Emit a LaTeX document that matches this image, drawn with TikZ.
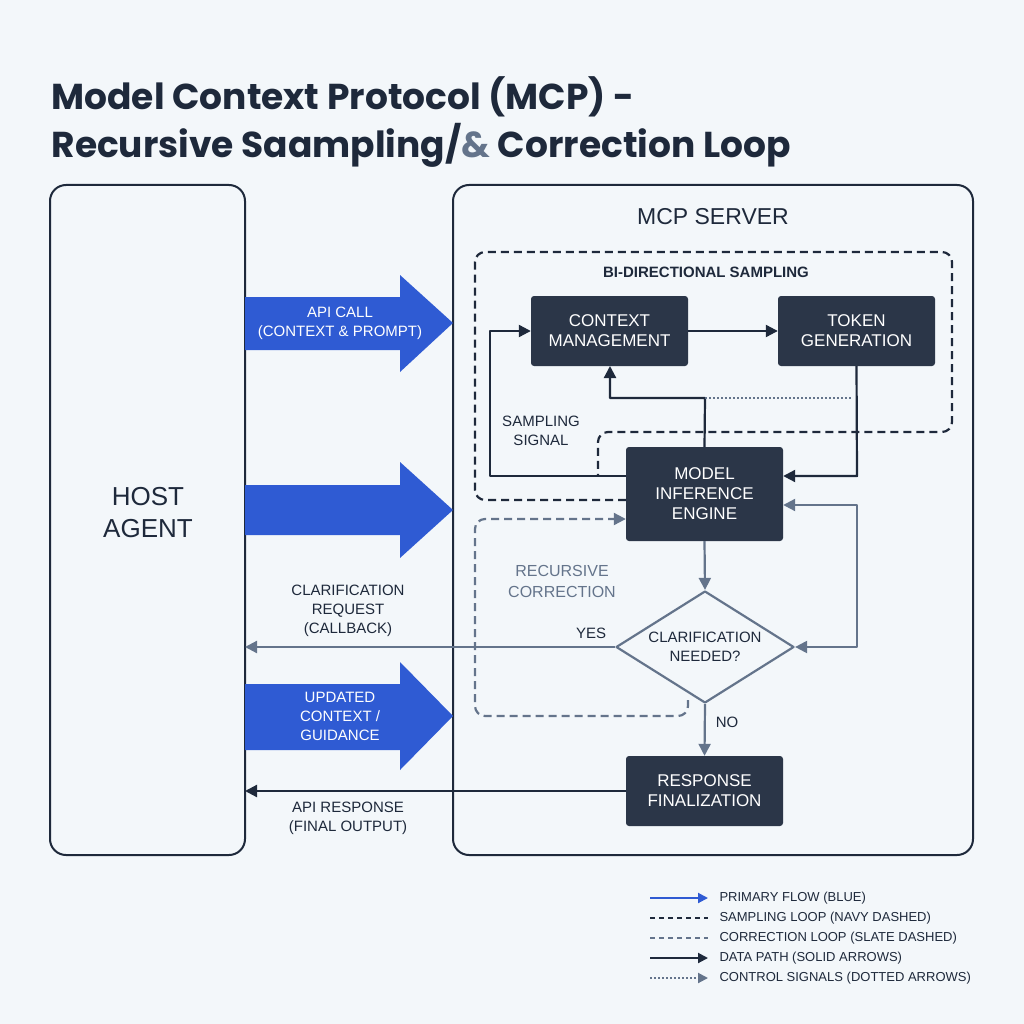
\documentclass[tikz,border=0pt]{standalone}
\usepackage{fontspec}
\setmainfont{Liberation Sans}
\newfontfamily\titlefont{Poppins}
\usetikzlibrary{arrows.meta,shapes.geometric}
\definecolor{navy}{HTML}{1E293B}
\definecolor{slate}{HTML}{64748B}
\definecolor{mcpblue}{HTML}{2F5BD3}
\definecolor{boxfill}{HTML}{2B3648}
\definecolor{bgcol}{HTML}{F3F7FA}
\tikzset{
  block/.style={draw=none,fill=boxfill,rounded corners=3pt,text=white,align=center,font=\fontsize{17}{20}\selectfont},
  datapath/.style={navy,line width=2.2pt,-{Triangle[length=12pt,width=12pt]}},
  ctrlpath/.style={slate,line width=2.2pt,-{Triangle[length=12pt,width=12pt]}},
  lbl/.style={align=center,font=\fontsize{15}{19}\selectfont,text=navy},
  bigarrow/.style={fill=mcpblue,draw=none},
  leg primary/.style={mcpblue,-{Triangle[length=10pt,width=10pt]}},
  leg sampling/.style={navy,dash pattern=on 5pt off 4pt},
  leg correction/.style={slate,dash pattern=on 5pt off 4pt},
  leg data/.style={navy,-{Triangle[length=10pt,width=10pt]}},
  leg control/.style={slate,dotted,-{Triangle[length=10pt,width=10pt]}},
}
\begin{document}
\begin{tikzpicture}[x=1pt,y=-1pt,line join=round]
%%
\fill[bgcol] (0,0) rectangle (1024,1024);
\useasboundingbox (0,0) rectangle (1024,1024);
\node (title) at (48,122) [anchor=west,align=left,text=navy,font=\titlefont\bfseries\fontsize{36}{48}\selectfont] {Model Context Protocol (MCP) -\\Recursive Saampling/\textcolor{slate}{\&} Correction Loop};
%
\draw[navy,line width=2pt,rounded corners=16pt,fill=bgcol] (50,185) rectangle (245,855);
\node (host) at (148,513) [align=center,text=navy,font=\fontsize{26}{32}\selectfont] {HOST\\AGENT};
\draw[navy,line width=2pt,rounded corners=16pt,fill=bgcol] (453,185) rectangle (973,855);
\node (server) at (713,217) [text=navy,font=\fontsize{23}{28}\selectfont] {MCP SERVER};
%
\draw[navy,line width=2.2pt,dash pattern=on 8pt off 5pt,rounded corners=10pt] (626,500) -- (475,500) -- (475,252) -- (952,252) -- (952,432) -- (598,432) -- (598,475);
\node (bidir) at (706,272) [lbl,font=\fontsize{15}{19}\bfseries\selectfont] {BI-DIRECTIONAL SAMPLING};
%
\node (ctx) at (609.5,331) [block,minimum width=157pt,minimum height=70pt] {CONTEXT\\MANAGEMENT};
\node (tok) at (856.5,331) [block,minimum width=157pt,minimum height=70pt] {TOKEN\\GENERATION};
\node (eng) at (704.5,494) [block,minimum width=157pt,minimum height=94pt] {MODEL\\INFERENCE\\ENGINE};
\node (dec) at (705,647) [diamond,draw=slate,line width=2.2pt,fill=bgcol,minimum width=178pt,minimum height=112pt,inner sep=-8pt,align=center,text=navy,font=\fontsize{15}{19}\selectfont] {CLARIFICATION\\NEEDED?};
\node (resp) at (704.5,791) [block,minimum width=157pt,minimum height=70pt] {RESPONSE\\FINALIZATION};
%
\draw[datapath] (ctx) -- (tok);
\draw[datapath] (tok.south) -- (857,476) -- (eng.east |- 0,476);
\draw[datapath] (eng.north) -- (705,398) -- (610,398) -- (610,366);
\draw[datapath] (eng.west |- 0,476) -- (490,476) -- (490,331) -- (ctx.west);
\draw[slate,line width=2pt,dotted] (705,398) -- (852,398);
\node (sampsig) at (541,431) [lbl] {SAMPLING\\SIGNAL};
%
\draw[ctrlpath] (eng.south) -- (dec.north);
\draw[slate,line width=2.2pt,{Triangle[length=12pt,width=12pt]}-{Triangle[length=12pt,width=12pt]}] (eng.east |- 0,505) -- (857,505) -- (857,647) -- (dec.east);
\draw[slate,line width=2.2pt,dash pattern=on 8pt off 5pt,rounded corners=10pt,-{Triangle[length=12pt,width=12pt]}] (688,700) -- (688,716) -- (475,716) -- (475,519) -- (eng.west |- 0,519);
\node (recur) at (562,581) [lbl,text=slate,font=\fontsize{16}{21}\selectfont] {RECURSIVE\\CORRECTION};
\draw[ctrlpath] (dec.west) -- (245,647);
\node (yes) at (591,633) [lbl] {YES};
\node (clar) at (348,611) [lbl] {CLARIFICATION\\REQUEST\\(CALLBACK)};
\draw[ctrlpath] (dec.south) -- (resp.north);
\node (no) at (727,722) [lbl] {NO};
\draw[datapath] (resp.west) -- (245,791);
\node (apiresp) at (348,818) [lbl] {API RESPONSE\\(FINAL OUTPUT)};
%
\draw[bigarrow] (245,297) -- (400,297) -- (400,275) -- (453,323) -- (400,372) -- (400,350) -- (245,350) -- cycle;
\draw[bigarrow] (245,485) -- (400,485) -- (400,462) -- (453,510) -- (400,558) -- (400,535) -- (245,535) -- cycle;
\draw[bigarrow] (245,684) -- (400,684) -- (400,662) -- (453,716) -- (400,770) -- (400,750) -- (245,750) -- cycle;
\node (call) at (340,323) [lbl,text=white] {API CALL\\(CONTEXT \& PROMPT)};
\node (upd) at (340,716) [lbl,text=white] {UPDATED\\CONTEXT /\\GUIDANCE};
%
\foreach \y/\sty/\txt in {898/leg primary/PRIMARY FLOW (BLUE),
  918/leg sampling/SAMPLING LOOP (NAVY DASHED),
  938/leg correction/CORRECTION LOOP (SLATE DASHED),
  958/leg data/DATA PATH (SOLID ARROWS),
  978/leg control/CONTROL SIGNALS (DOTTED ARROWS)}{
  \draw[line width=2pt,\sty] (650,\y) -- (708,\y);
  \node at (716,\y) [anchor=west,text=navy,font=\fontsize{13}{16}\selectfont] {\txt};
}
%
\end{tikzpicture}
\end{document}
